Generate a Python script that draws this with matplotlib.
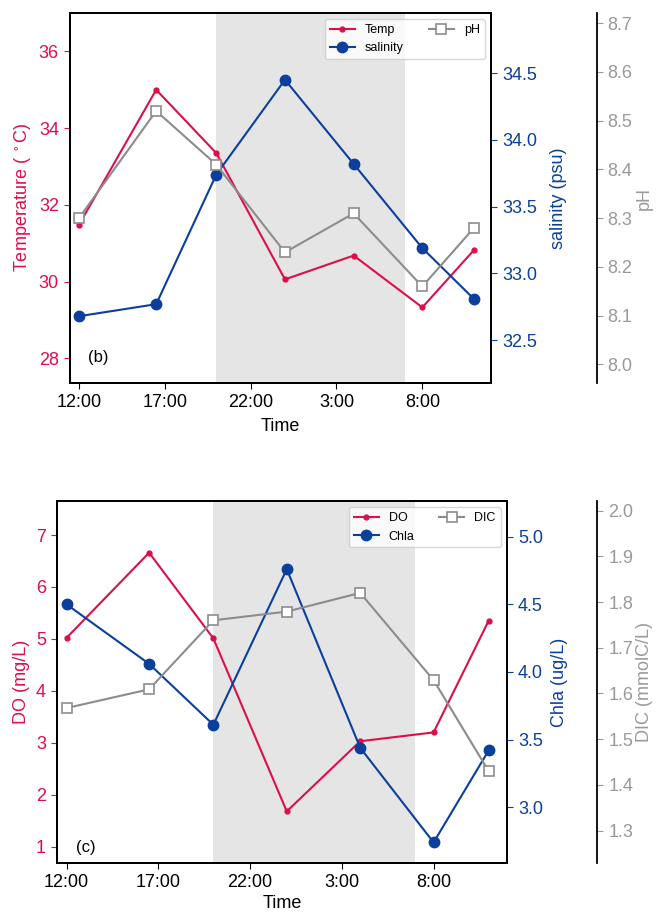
import matplotlib
matplotlib.use("Agg")
import matplotlib.pyplot as plt

plt.rcParams['font.family'] = ['Liberation Sans', 'DejaVu Sans']
plt.rcParams['font.size'] = 13
plt.rcParams['axes.linewidth'] = 1.3
plt.rcParams['xtick.major.size'] = 4.5
plt.rcParams['ytick.major.size'] = 4.5
plt.rcParams['mathtext.default'] = 'regular'

# sampling times, hours after 12:00
hours = [0, 4.5, 8, 12, 16, 20, 23]
tick_hours = [0, 5, 10, 15, 20]
tick_labels = ["12:00", "17:00", "22:00", "3:00", "8:00"]
night = (8, 19)

temp = [31.48, 35.0, 33.35, 30.06, 30.68, 29.33, 30.82]
salinity = [32.68, 32.77, 33.74, 34.45, 33.82, 33.19, 32.81]
ph = [8.30, 8.52, 8.41, 8.23, 8.31, 8.16, 8.28]

do = [5.02, 6.66, 5.01, 1.68, 3.03, 3.20, 5.35]
chla = [4.50, 4.06, 3.61, 4.76, 3.44, 2.74, 3.42]
dic = [1.568, 1.609, 1.760, 1.779, 1.820, 1.629, 1.430]

RED = '#DC0F4B'
BLUE = '#0A3F9C'
GRAY = '#8C8C8C'
GRAY_TXT = '#999999'

fig = plt.figure(figsize=(6.56, 9.13), dpi=100)


def panel(rect, y1, y2, y3, names, ylabels, ylims, y1ticks, y2ticks, y3ticks,
          offset, tag, tagpos, pad2, xpad):
    ax = fig.add_axes(rect)
    ax.axvspan(*night, color='#E5E5E5', lw=0, zorder=0)
    l1, = ax.plot(hours, y1, '-o', color=RED, lw=1.5, ms=3.5, label=names[0])
    ax.set_xlim(-0.52, 24)
    ax.set_xticks(tick_hours)
    ax.set_xticklabels(tick_labels)
    ax.set_xlabel("Time", labelpad=xpad)
    ax.set_ylim(*ylims[0])
    ax.set_yticks(y1ticks)
    ax.set_ylabel(ylabels[0], color=RED)
    ax.tick_params(axis='y', colors=RED)
    ax.tick_params(axis='x', colors='black')
    ax.text(tagpos[0], tagpos[1], tag, transform=ax.transAxes, fontsize=12,
            ha='left', va='center')

    ax2 = ax.twinx()
    l2, = ax2.plot(hours, y2, '-o', color=BLUE, lw=1.5, ms=7.5, label=names[1])
    ax2.set_ylim(*ylims[1])
    ax2.set_yticks(y2ticks)
    ax2.set_yticklabels([f"{v:.1f}" for v in y2ticks])
    ax2.set_ylabel(ylabels[1], color=BLUE, labelpad=pad2)
    ax2.tick_params(axis='y', colors=BLUE)

    ax3 = ax.twinx()
    ax3.spines['right'].set_position(('outward', offset))
    l3, = ax3.plot(hours, y3, '-s', color=GRAY, lw=1.5, ms=7.5,
                   mfc='white', mec=GRAY, mew=1.2, label=names[2])
    ax3.set_ylim(*ylims[2])
    ax3.set_yticks(y3ticks)
    ax3.set_yticklabels([f"{v:.1f}" for v in y3ticks])
    ax3.set_ylabel(ylabels[2], color=GRAY_TXT, labelpad=2)
    ax3.tick_params(axis='y', colors=GRAY_TXT)
    ax3.spines['right'].set_color('black')

    ax3.legend([l1, l2, l3], names, loc='upper right', ncol=2, fontsize=9,
               edgecolor='#CCCCCC')


panel([70 / 656, 530 / 913, 421 / 656, 370 / 913], temp, salinity, ph,
      ["Temp", "salinity", "pH"],
      [r"Temperature ( $^\circ$C)", "salinity (psu)", "pH"],
      [(27.36, 37.0), (32.18, 34.95), (7.962, 8.721)],
      [28, 30, 32, 34, 36], [32.5, 33.0, 33.5, 34.0, 34.5],
      [8.0, 8.1, 8.2, 8.3, 8.4, 8.5, 8.6, 8.7],
      76, "(b)", (0.043, 0.07), 9, 5)

panel([57 / 656, 50 / 913, 450 / 656, 362 / 913], do, chla, dic,
      ["DO", "Chla", "DIC"],
      ["DO (mg/L)", "Chla (ug/L)", "DIC (mmolC/L)"],
      [(0.686, 7.655), (2.588, 5.264), (1.229, 2.021)],
      [1, 2, 3, 4, 5, 6, 7], [3.0, 3.5, 4.0, 4.5, 5.0],
      [1.3, 1.4, 1.5, 1.6, 1.7, 1.8, 1.9, 2.0],
      65, "(c)", (0.042, 0.042), 6, 3)

fig.savefig("out.png", dpi=100)
